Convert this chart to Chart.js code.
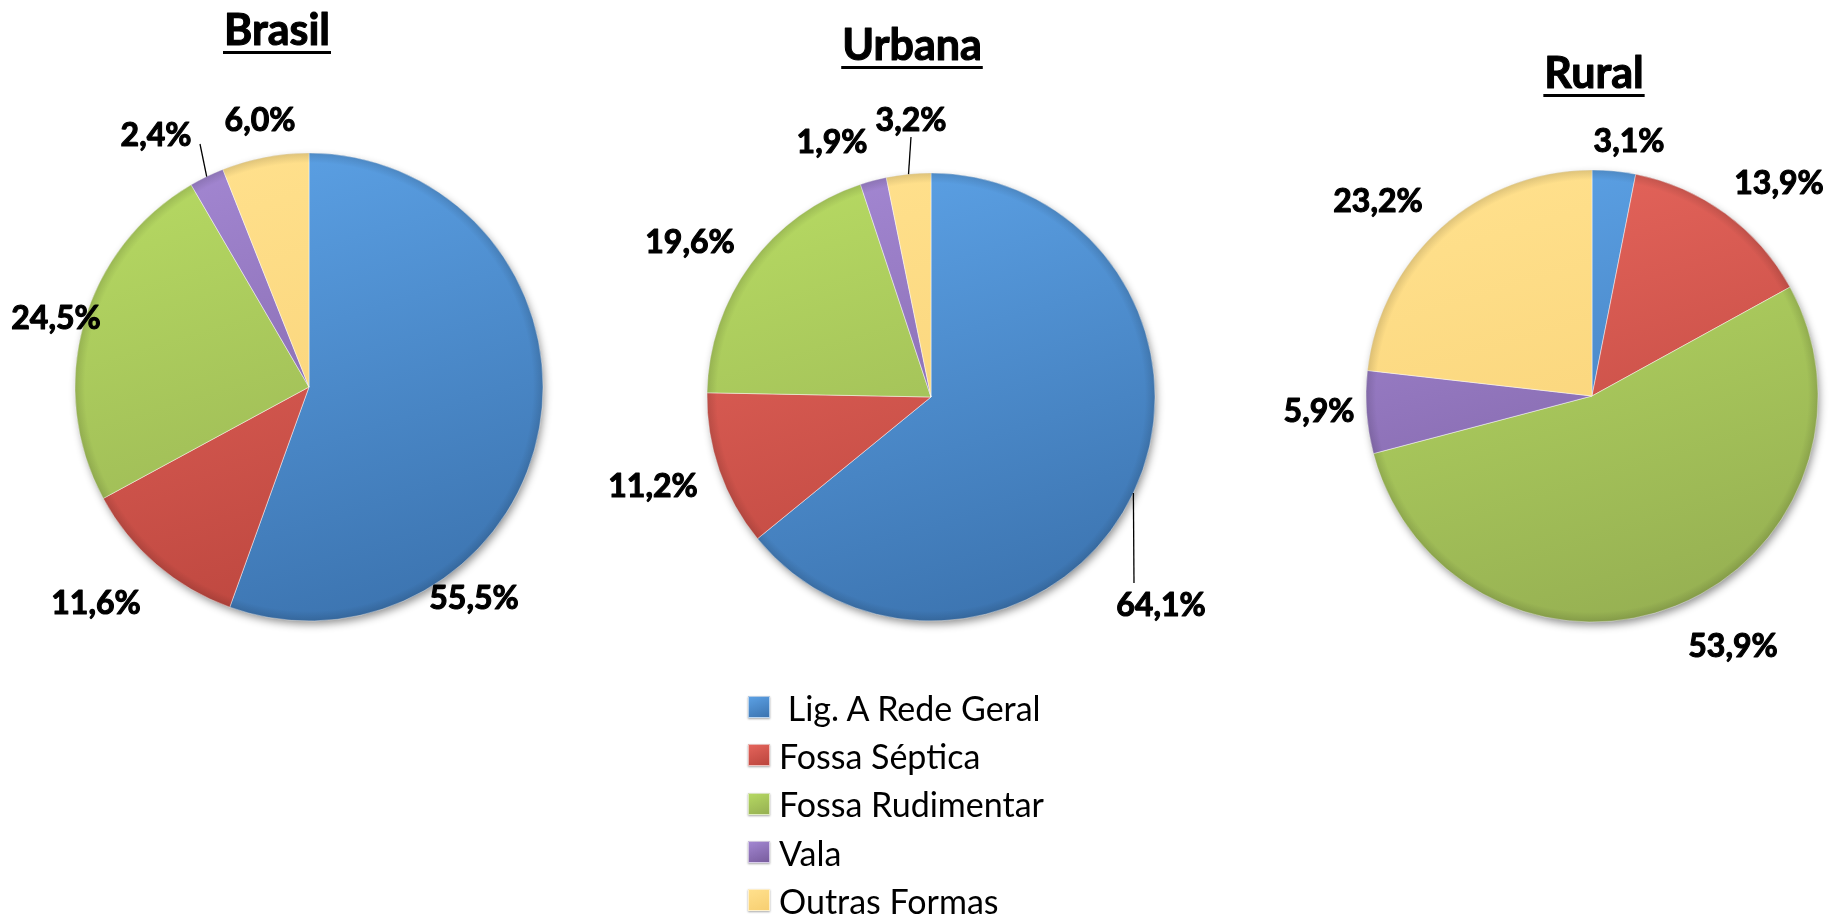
<!DOCTYPE html>
<html>
<head>
<meta charset="utf-8">
<script src="https://cdn.jsdelivr.net/npm/chart.js@4.4.0/dist/chart.umd.min.js"></script>
<style>
html, body { margin: 0; padding: 0; background: #fff; width: 1839px; height: 917px; overflow: hidden; font-family: Lato, sans-serif; }
canvas { position: absolute; left: 0; top: 0; }
#legend { position: absolute; left: 748px; top: 683px; }
.item { height: 48.3px; display: flex; align-items: center; font-size: 34px; color: #000; white-space: pre; }
.box { width: 20px; height: 20px; margin-right: 9px; border: 1px solid rgba(255,255,255,0.6); box-shadow: 0 1px 2px rgba(0,0,0,0.35); }
</style>
</head>
<body>
<canvas id="brasil" width="1839" height="917"></canvas>
<canvas id="urbana" width="1839" height="917"></canvas>
<canvas id="rural" width="1839" height="917"></canvas>
<div id="legend"></div>
<script>
// --- DATA ---
const categories = [' Lig. A Rede Geral', 'Fossa Séptica', 'Fossa Rudimentar', 'Vala', 'Outras Formas'];
const brasilValues = [55.5, 11.6, 24.5, 2.4, 6.0];
const urbanaValues = [64.1, 11.2, 19.6, 1.9, 3.2];
const ruralValues = [3.1, 13.9, 53.9, 5.9, 23.2];

// light / dark shade of each slice colour (vertical gradient)
const lightColors = ['#5ba0e4', '#e4645b', '#b5d862', '#a286d1', '#ffe08c'];
const darkColors = ['#3c74b0', '#bb453d', '#96b052', '#795d9e', '#f7cf72'];

// --- LAYOUT (page pixels) ---
const W = 1839, H = 917;
const pies = [
    { id: 'brasil', title: 'Brasil', values: brasilValues, center: [309, 387], r: 234,
      titleAt: [277, 45], titleSize: 43,
      labelOffsets: [[165, 212], [-213, 217], [-253, -68], [-153, -251], [-49, -266]],
      leaders: [{ i: 3, end: [44, 8] }] },
    { id: 'urbana', title: 'Urbana', values: urbanaValues, center: [931, 397], r: 224,
      titleAt: [912, 60], titleSize: 43,
      labelOffsets: [[230, 209], [-278, 90], [-241, -154], [-99, -254], [-20, -276]],
      leaders: [{ i: 0, end: [-27, -23] }, { i: 4, end: [0, 16] }] },
    { id: 'rural', title: 'Rural', values: ruralValues, center: [1592, 396], r: 226,
      titleAt: [1594, 88], titleSize: 43,
      labelOffsets: [[37, -254], [187, -212], [141, 251], [-273, 16], [-214, -194]],
      leaders: [] }
];

function fmt(v) {
    return v.toFixed(1).replace('.', ',') + '%';
}

function sliceFill(ctx, cfg) {
    const i = ctx.dataIndex;
    if (i === undefined) return lightColors[0];
    const [cx, cy] = cfg.center;
    const g = ctx.chart.ctx.createLinearGradient(cx - cfg.r * 0.3, cy - cfg.r, cx + cfg.r * 0.3, cy + cfg.r);
    g.addColorStop(0, lightColors[i]);
    g.addColorStop(1, darkColors[i]);
    return g;
}

// shadow under the pie, rim shading, labels and title
function decorPlugin(cfg) {
    return {
        id: 'decor',
        beforeDatasetsDraw(chart) {
            const arc = chart.getDatasetMeta(0).data[0];
            const ctx = chart.ctx;
            ctx.save();
            ctx.shadowColor = 'rgba(0,0,0,0.45)';
            ctx.shadowBlur = 9;
            ctx.shadowOffsetX = 2;
            ctx.shadowOffsetY = 4;
            ctx.fillStyle = '#fff';
            ctx.beginPath();
            ctx.arc(arc.x, arc.y, arc.outerRadius - 1, 0, Math.PI * 2);
            ctx.fill();
            ctx.restore();
        },
        afterDatasetsDraw(chart) {
            const arc = chart.getDatasetMeta(0).data[0];
            const ctx = chart.ctx;
            // soft bevel near the rim
            ctx.save();
            const g = ctx.createRadialGradient(arc.x, arc.y, arc.outerRadius - 10, arc.x, arc.y, arc.outerRadius);
            g.addColorStop(0, 'rgba(0,0,0,0)');
            g.addColorStop(1, 'rgba(0,0,0,0.13)');
            ctx.fillStyle = g;
            ctx.beginPath();
            ctx.arc(arc.x, arc.y, arc.outerRadius, 0, Math.PI * 2);
            ctx.fill();
            ctx.restore();
        },
        afterDraw(chart) {
            const ctx = chart.ctx;
            const meta = chart.getDatasetMeta(0);
            const cx = meta.data[0].x, cy = meta.data[0].y;
            ctx.save();
            ctx.fillStyle = '#000';
            ctx.strokeStyle = '#000';

            // leader lines
            ctx.lineWidth = 1.3;
            cfg.leaders.forEach(l => {
                const a = meta.data[l.i];
                const mid = (a.startAngle + a.endAngle) / 2;
                const px = a.x + a.outerRadius * Math.cos(mid);
                const py = a.y + a.outerRadius * Math.sin(mid);
                const off = cfg.labelOffsets[l.i];
                ctx.beginPath();
                ctx.moveTo(px, py);
                ctx.lineTo(cx + off[0] + l.end[0], cy + off[1] + l.end[1]);
                ctx.stroke();
            });

            // value labels (a thin stroke makes them as heavy as the original)
            ctx.font = 'bold 32px Lato';
            ctx.textAlign = 'center';
            ctx.textBaseline = 'middle';
            ctx.lineWidth = 1.1;
            ctx.lineJoin = 'round';
            cfg.values.forEach((v, i) => {
                const off = cfg.labelOffsets[i];
                ctx.fillText(fmt(v), cx + off[0], cy + off[1]);
                ctx.strokeText(fmt(v), cx + off[0], cy + off[1]);
            });

            // underlined title
            ctx.font = 'bold ' + cfg.titleSize + 'px Lato';
            ctx.textBaseline = 'alphabetic';
            const [tx, ty] = cfg.titleAt;
            ctx.fillText(cfg.title, tx, ty);
            ctx.strokeText(cfg.title, tx, ty);
            const tw = ctx.measureText(cfg.title).width;
            ctx.fillRect(tx - tw / 2 - 1, ty + 6, tw + 2, 3);
            ctx.restore();
        }
    };
}

function makePie(cfg) {
    const [cx, cy] = cfg.center;
    const s = cfg.r + 12;
    return new Chart(document.getElementById(cfg.id), {
        type: 'pie',
        data: {
            labels: categories,
            datasets: [{
                data: cfg.values,
                backgroundColor: ctx => sliceFill(ctx, cfg),
                borderColor: 'rgba(255,255,255,0.45)',
                borderWidth: 1,
                radius: cfg.r,
                hoverOffset: 0
            }]
        },
        options: {
            responsive: false,
            animation: false,
            events: [],
            layout: { padding: { left: cx - s, top: cy - s, right: W - cx - s, bottom: H - cy - s } },
            plugins: { legend: { display: false }, tooltip: { enabled: false } }
        },
        plugins: [decorPlugin(cfg)]
    });
}

pies.forEach(makePie);

// --- LEGEND ---
const legend = document.getElementById('legend');
categories.forEach((name, i) => {
    const row = document.createElement('div');
    row.className = 'item';
    row.innerHTML = `<span class="box" style="background:linear-gradient(160deg, ${lightColors[i]}, ${darkColors[i]})"></span><span>${name}</span>`;
    legend.appendChild(row);
});
</script>
</body>
</html>
